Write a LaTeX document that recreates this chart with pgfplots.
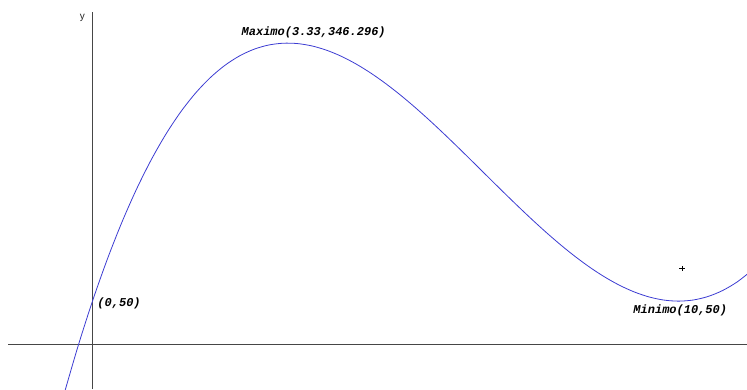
\documentclass[border=0pt]{standalone}
\usepackage{fontspec}
\setmainfont{Liberation Sans}
\newfontfamily\courier{Liberation Mono}
\usepackage{pgfplots}
\pgfplotsset{compat=1.18}

\definecolor{curve}{RGB}{60,60,210}
\definecolor{axisgray}{RGB}{70,70,70}

% f(x) = 2x^3 - 40x^2 + 200x + 50, sampled values
\pgfplotstableread{
x      y
-0.50  -60.25
-0.25  -2.53
0.00   50.00
0.25   97.53
0.50   140.25
0.75   178.34
1.00   212.00
1.25   241.41
1.50   266.75
1.75   288.22
2.00   306.00
2.25   320.28
2.50   331.25
2.75   339.09
3.00   344.00
3.25   346.16
3.50   345.75
3.75   342.97
4.00   338.00
4.25   331.03
4.50   322.25
4.75   311.84
5.00   300.00
5.25   286.91
5.50   272.75
5.75   257.72
6.00   242.00
6.25   225.78
6.50   209.25
6.75   192.59
7.00   176.00
7.25   159.66
7.50   143.75
7.75   128.47
8.00   114.00
8.25   100.53
8.50   88.25
8.75   77.34
9.00   68.00
9.25   60.41
9.50   54.75
9.75   51.22
10.00  50.00
10.25  51.28
10.50  55.25
10.75  62.09
11.00  72.00
11.25  85.16
}\curvedata

\newcommand{\lbl}{\courier\bfseries\itshape\fontsize{12}{14}\selectfont}

\begin{document}
\begin{tikzpicture}
\useasboundingbox (0,0) rectangle (747pt,389pt);
\begin{axis}[
    at={(0,0)}, anchor=south west,
    scale only axis,
    width=747pt, height=389pt,
    xmin=-1.578, xmax=11.169,
    ymin=-50.9, ymax=395.8,
    axis lines=middle,
    x axis line style={-, draw=axisgray, line width=1pt, shorten <=8.3pt},
    y axis line style={-, draw=axisgray, line width=1pt, shorten >=12pt},
    xtick=\empty, ytick=\empty,
    clip=true,
]
\addplot[curve, line width=0.8pt, smooth] table[x=x, y=y] {\curvedata};
\addplot[only marks, mark=+, mark size=2.8pt, black, line width=0.6pt] coordinates {(10.06,87.3)};

\node[font=\fontsize{10}{11}\selectfont, text=black!85] at (axis cs:-0.174,375.1) {y};
\node[font=\lbl] at (axis cs:3.775,358.4) {Maximo(3.33,346.296)};
\node[font=\lbl, anchor=west, inner sep=0pt] at (axis cs:0.082,47.9) {(0,50)};
\node[font=\lbl] at (axis cs:10.03,39.0) {Minimo(10,50)};
\end{axis}
\end{tikzpicture}
\end{document}
